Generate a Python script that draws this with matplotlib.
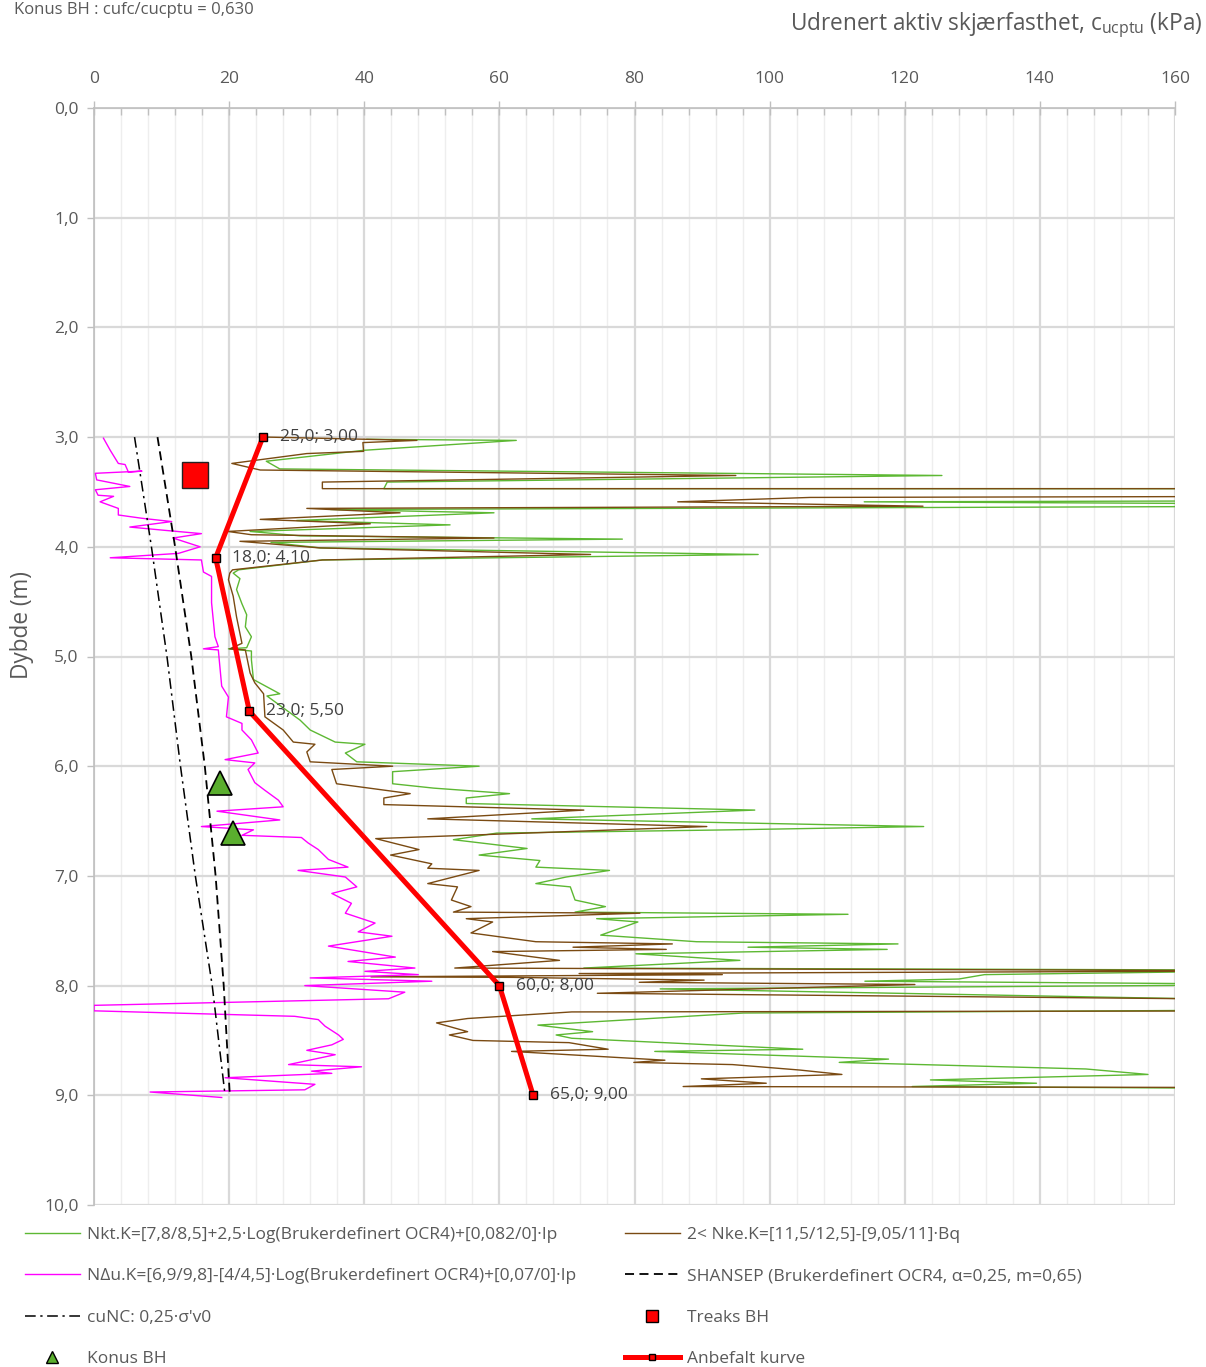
import matplotlib
matplotlib.use('Agg')
import matplotlib.pyplot as plt
from matplotlib.lines import Line2D
from matplotlib.ticker import MultipleLocator, FuncFormatter

plt.rcParams['font.family'] = ['Open Sans', 'DejaVu Sans']

# ---------------- data ----------------
# Nkt (green) : depth (m), cu (kPa)
nkt_depth = [3.02, 3.03, 3.12, 3.22, 3.29, 3.35, 3.41, 3.47, 3.47, 3.58, 3.59, 3.61, 3.63, 3.66, 3.69,
             3.76, 3.80, 3.86, 3.90, 3.93, 3.96, 4.01, 4.07, 4.12, 4.21,
             4.24, 4.29, 4.39, 4.52, 4.62, 4.73, 4.82, 4.92, 4.93, 4.95, 5.03, 5.21, 5.34, 5.36, 5.58,
             5.67, 5.78, 5.80, 5.88, 5.96,
             6.00, 6.05, 6.16, 6.20, 6.25, 6.29, 6.34, 6.40, 6.48, 6.55, 6.58, 6.61, 6.67, 6.75, 6.81,
             6.86, 6.92, 6.95, 7.01, 7.07, 7.10, 7.22, 7.28, 7.33, 7.35, 7.39, 7.42, 7.54, 7.60, 7.62,
             7.65, 7.67, 7.71, 7.77, 7.84,
             7.86, 7.90, 7.94, 7.96, 7.99, 8.03, 8.14, 8.22, 8.25, 8.36, 8.42, 8.45, 8.48, 8.58, 8.60,
             8.67, 8.70, 8.76, 8.81, 8.86, 8.89, 8.92, 8.94]
nkt_cu = [40.4, 62.5, 40.0, 25.5, 27.5, 125.5, 43.4, 42.9, 180, 180, 114.0, 180, 180, 35.0, 59.2,
          30.0, 52.7, 23.1, 30.5, 78.2, 26.2, 33.5, 98.3, 33.8, 21.4,
          20.6, 21.6, 21.1, 21.9, 22.6, 22.4, 23.3, 22.6, 19.9, 23.3, 23.3, 23.6, 27.5, 25.6, 30.5,
          32.0, 35.7, 40.1, 37.2, 38.9,
          57.0, 44.2, 44.2, 50.3, 61.5, 55.1, 55.1, 97.8, 64.8, 122.8, 94.3, 59.6, 53.2, 64.1, 57.0,
          66.0, 65.4, 76.3, 69.9, 65.4, 70.5, 71.2, 75.7, 71.2, 111.6, 74.4, 80.5, 75.0, 89.2, 119.0,
          96.8, 117.4, 80.2, 95.6, 72.5,
          180, 131.8, 128.0, 114.1, 180, 83.8, 180, 180, 96.1, 65.7, 73.8, 68.4, 70.7, 104.9, 83.0,
          117.6, 110.3, 146.8, 156.0, 123.8, 139.5, 121.1, 180]

# Nke (brown)
nke_depth = [3.00, 3.03, 3.05, 3.13, 3.15, 3.24, 3.30, 3.35, 3.41, 3.47, 3.47, 3.54, 3.55, 3.59, 3.63,
             3.65, 3.69, 3.75, 3.79, 3.86, 3.89, 3.92, 3.95, 4.01, 4.07, 4.12, 4.21,
             4.24, 4.30, 4.45, 4.64, 4.88, 4.93, 4.94, 5.15, 5.24, 5.34, 5.55, 5.67, 5.78, 5.80, 5.87,
             5.96,
             6.00, 6.03, 6.16, 6.25, 6.29, 6.35, 6.40, 6.48, 6.55, 6.66, 6.76, 6.81, 6.89, 6.93, 6.95,
             7.07, 7.10, 7.22, 7.28, 7.33, 7.34, 7.39, 7.42, 7.52, 7.60, 7.62, 7.65, 7.67, 7.69, 7.77,
             7.84,
             7.865, 7.89, 7.90, 7.92, 7.925, 7.95, 7.97, 7.99, 8.07, 8.13, 8.23, 8.24, 8.30, 8.34, 8.42,
             8.45, 8.50, 8.52, 8.58, 8.60, 8.68, 8.70, 8.72, 8.77, 8.81, 8.85, 8.89, 8.92, 8.93]
nke_cu = [25.6, 47.8, 39.8, 39.9, 31.5, 20.4, 24.6, 95.0, 33.8, 33.8, 180, 180, 106.0, 86.4, 122.7,
          31.5, 45.3, 24.6, 40.9, 19.8, 23.3, 59.2, 21.6, 33.4, 73.5, 33.8, 20.5,
          20.1, 19.9, 20.6, 21.1, 21.9, 20.1, 22.4, 23.1, 23.8, 25.1, 25.3, 28.0, 29.5, 32.7, 31.5,
          32.0,
          44.2, 35.2, 35.9, 46.8, 42.9, 42.9, 72.5, 49.4, 90.7, 41.7, 48.1, 43.9, 50.0, 49.4, 57.0,
          49.4, 53.8, 52.9, 55.8, 53.2, 80.8, 55.1, 59.0, 55.8, 65.4, 85.6, 70.9, 84.7, 59.0, 68.9,
          53.4,
          180, 71.8, 93.0, 41.0, 62.0, 90.3, 80.7, 121.5, 74.5, 180, 180, 70.7, 55.3, 50.7, 55.3,
          52.6, 56.1, 70.3, 76.1, 61.8, 84.5, 79.9, 94.5, 104.5, 110.7, 89.9, 99.5, 87.2, 180]

# NΔu (magenta)
ndu_depth = [3.01, 3.12, 3.24, 3.25, 3.32, 3.31, 3.33, 3.39, 3.45, 3.48,
             3.53, 3.54, 3.59, 3.65, 3.71, 3.74, 3.77, 3.82, 3.85, 3.88,
             3.92, 4.00, 4.06, 4.10, 4.12, 4.23, 4.27, 4.51, 4.82, 4.91,
             4.93, 4.94, 5.27, 5.37, 5.55, 5.61, 5.67, 5.76, 5.82, 5.88,
             5.94, 5.97, 6.03, 6.15, 6.22, 6.31, 6.37, 6.41, 6.49, 6.55,
             6.58, 6.63, 6.65, 6.70, 6.76, 6.85, 6.92, 6.95, 7.01, 7.10,
             7.16, 7.25, 7.34, 7.43, 7.51, 7.55, 7.64, 7.74, 7.78, 7.84,
             7.87, 7.90, 7.93, 7.96, 8.00, 8.06, 8.12, 8.18, 8.23, 8.28,
             8.31, 8.37, 8.45, 8.49, 8.54, 8.59, 8.63, 8.72, 8.74, 8.78,
             8.80, 8.84, 8.90, 8.95, 8.97, 9.02]
ndu_cu = [1.4, 2.4, 3.6, 4.6, 5.1, 7.1, 0.2, 0.4, 5.3, 0.2,
          0.6, 2.9, 0.9, 3.6, 3.6, 7.1, 11.5, 5.3, 10.5, 15.9,
          11.7, 15.7, 12.5, 2.4, 15.9, 16.2, 17.4, 17.4, 17.9, 18.4,
          16.2, 18.4, 18.9, 19.9, 19.6, 21.9, 21.9, 23.3, 23.8, 24.3,
          19.4, 23.8, 22.8, 23.8, 25.3, 27.3, 28.0, 18.2, 27.5, 15.9,
          23.6, 21.9, 30.7, 31.7, 33.2, 34.7, 37.6, 30.2, 37.2, 38.9,
          35.2, 38.1, 37.2, 41.6, 39.1, 44.1, 34.7, 44.6, 37.6, 47.5,
          40.1, 48.0, 32.0, 50.0, 31.2, 46.0, 43.6, 0.0, 0.0, 29.7,
          33.2, 34.2, 36.2, 36.9, 35.2, 31.5, 35.7, 28.8, 39.6, 32.2,
          35.2, 19.4, 32.7, 31.2, 8.3, 18.9]

# SHANSEP and cuNC reference lines
ref_depth = [3.0, 4.0, 5.0, 6.0, 7.0, 8.0, 9.0]
shansep_cu = [9.4, 12.0, 14.4, 16.4, 18.0, 19.2, 20.1]
cunc_cu = [6.0, 8.5, 10.8, 12.8, 15.0, 17.5, 19.4]

# Laboratory points
treaks_cu, treaks_depth = [15.0], [3.35]
konus_cu, konus_depth = [18.6, 20.5], [6.15, 6.61]

# Recommended curve
anb_cu = [25.0, 18.0, 23.0, 60.0, 65.0]
anb_depth = [3.00, 4.10, 5.50, 8.00, 9.00]

xticks_major = 20
labels = ["Nkt.K=[7,8/8,5]+2,5·Log(Brukerdefinert OCR4)+[0,082/0]·Ip",
          "2< Nke.K=[11,5/12,5]-[9,05/11]·Bq",
          "NΔu.K=[6,9/9,8]-[4/4,5]·Log(Brukerdefinert OCR4)+[0,07/0]·Ip",
          "SHANSEP (Brukerdefinert OCR4, α=0,25, m=0,65)",
          "cuNC: 0,25·σ'v0",
          "Treaks BH",
          "Konus BH",
          "Anbefalt kurve"]

# ---------------- figure ----------------
W, H = 1206, 1367
fig = plt.figure(figsize=(W / 100, H / 100), dpi=100)
ax = fig.add_axes([94 / W, 1 - 1205 / H, (1175 - 94) / W, (1205 - 108) / H])

GREEN = '#5DB833'
BROWN = '#7A4A12'
MAG = '#FF00FF'
TXT = '#595959'

l_nkt, = ax.plot(nkt_cu, nkt_depth, color=GREEN, lw=1.0, zorder=3)
l_nke, = ax.plot(nke_cu, nke_depth, color=BROWN, lw=1.0, zorder=3)
l_ndu, = ax.plot(ndu_cu, ndu_depth, color=MAG, lw=1.0, zorder=3)
l_sh, = ax.plot(shansep_cu, ref_depth, color='black', lw=1.3, ls=(0, (5, 3)), zorder=3)
l_nc, = ax.plot(cunc_cu, ref_depth, color='black', lw=1.1, ls=(0, (7, 3, 1.5, 3)), zorder=3)
ax.plot(treaks_cu, treaks_depth, ls='none', marker='s', ms=19, mfc='#FF0000', mec='#222222',
        mew=1.0, zorder=5)
ax.plot(konus_cu, konus_depth, ls='none', marker='^', ms=17, mfc='#5AAE2E', mec='black',
        mew=1.2, zorder=5)
ax.plot(anb_cu, anb_depth, color='#FF0000', lw=3.6, marker='s', ms=5.5, mfc='#FF0000',
        mec='black', mew=1.0, zorder=6, solid_capstyle='butt')

for c, d in zip(anb_cu, anb_depth):
    ax.annotate(f"{c:.1f}; {d:.2f}".replace('.', ','), (c, d), xytext=(12, 0),
                textcoords='offset points', va='center', ha='left', fontsize=12.5,
                color='#404040', zorder=7)

ax.set_xlim(0, 160)
ax.set_ylim(10, 0)
ax.xaxis.tick_top()
ax.xaxis.set_major_locator(MultipleLocator(xticks_major))
ax.xaxis.set_minor_locator(MultipleLocator(4))
ax.yaxis.set_major_locator(MultipleLocator(1))
ax.yaxis.set_major_formatter(FuncFormatter(lambda v, p: f"{v:.1f}".replace('.', ',')))
ax.tick_params(axis='x', which='major', direction='inout', length=10, width=1,
               color='#BFBFBF', labelsize=12.5, labelcolor=TXT, pad=10)
ax.tick_params(axis='x', which='minor', direction='in', length=5, width=1, color='#BFBFBF')
ax.tick_params(axis='y', which='major', direction='out', length=5, width=1,
               color='#BFBFBF', labelsize=12.5, labelcolor=TXT, pad=6)
ax.grid(which='major', axis='both', color='#D9D9D9', lw=1.6, zorder=0)
ax.grid(which='minor', axis='x', color='#EEEEEE', lw=1.0, zorder=0)
ax.set_axisbelow(True)
for s in ['right', 'bottom']:
    ax.spines[s].set_visible(False)
for s in ['left', 'top']:
    ax.spines[s].set_color('#BFBFBF')
    ax.spines[s].set_linewidth(1.2)

fig.text(1202 / W, 1 - 25 / H, r'Udrenert aktiv skjærfasthet, c$_\mathregular{ucptu}$ (kPa)',
         ha='right', va='center', fontsize=16.3, color=TXT)
fig.text(22 / W, 1 - 625 / H, 'Dybde (m)', rotation=90, ha='center', va='center',
         fontsize=16.3, color=TXT)
fig.text(14 / W, 1 - 2 / H, 'Konus BH : cufc/cucptu = 0,630', ha='left', va='top',
         fontsize=12, color=TXT)

# ---------------- legend ----------------
h_treaks = Line2D([], [], ls='none', marker='s', ms=9, mfc='#FF0000', mec='black', mew=1)
h_konus = Line2D([], [], ls='none', marker='^', ms=9, mfc='#5AAE2E', mec='black', mew=1)
h_anb = Line2D([], [], color='#FF0000', lw=3.6, marker='s', ms=5, mfc='#FF0000', mec='black', mew=1)

common = dict(frameon=False, fontsize=12.5, labelcolor=TXT, handlelength=3.16, handletextpad=0.4,
              labelspacing=1.45, borderpad=0, borderaxespad=0, numpoints=1, loc='upper left')
leg1 = fig.legend([l_nkt, l_ndu, l_nc, h_konus], [labels[0], labels[2], labels[4], labels[6]],
                  bbox_to_anchor=(25 / W, 1 - 1227 / H), **common)
leg2 = fig.legend([l_nke, l_sh, h_treaks, h_anb], [labels[1], labels[3], labels[5], labels[7]],
                  bbox_to_anchor=(625 / W, 1 - 1227 / H), **common)

fig.savefig('out.png', dpi=100)
